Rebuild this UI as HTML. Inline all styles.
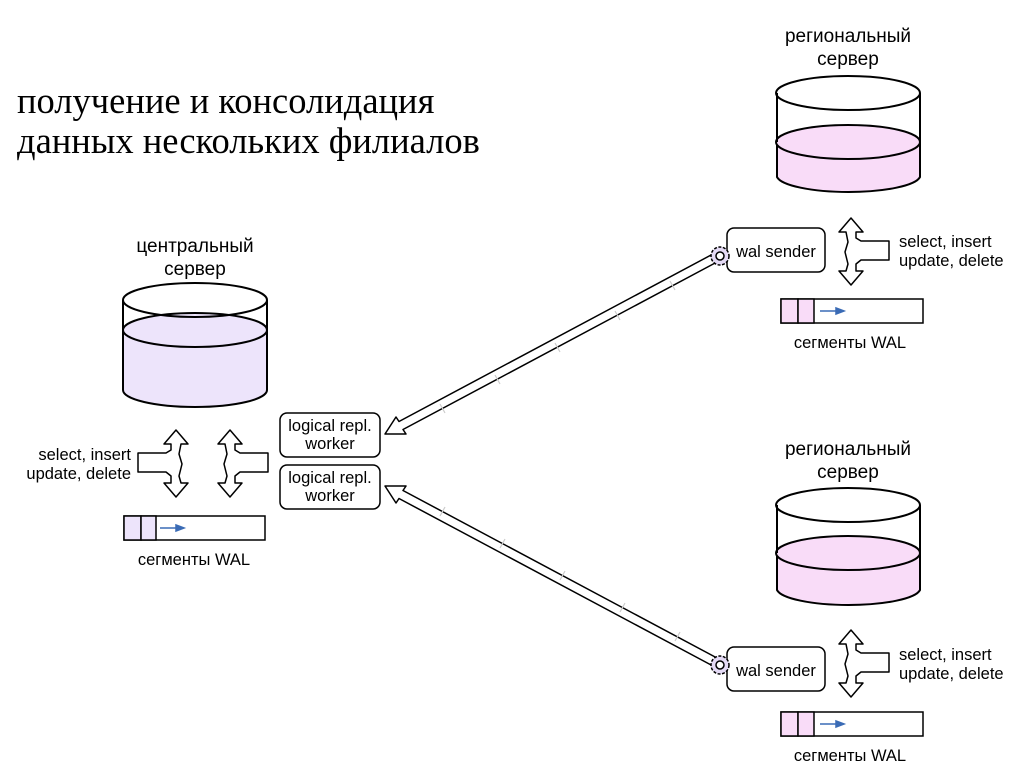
<!DOCTYPE html>
<html><head><meta charset="utf-8"><style>
html,body{margin:0;padding:0;background:#fff;}
svg{display:block;}
text{font-family:"Liberation Sans",sans-serif;font-size:16.5px;fill:#000;}
.t{font-family:"Liberation Serif",serif;font-size:36.5px;}
.h{font-size:19px;}
</style></head><body>
<svg width="1030" height="783" viewBox="0 0 1030 783">
<defs>
<g id="arr">
<polygon points="0,0 12,14 5,14 5,20 10,23 38,23 38,42 10,42 5,46 5,53 12,53 0,67 -12,53 -5,53 -3,46 -6,34 -3,24 -5,14 -12,14" fill="#fff" stroke="#000" stroke-width="1.5" stroke-linejoin="round"/>
</g>
</defs>
<text class="t" x="17" y="113">получение и консолидация</text>
<text class="t" x="17" y="153">данных нескольких филиалов</text>

<path d="M123,330 L123,390 A72,17 0 0 0 267,390 L267,330 Z" fill="#ede4fb" stroke="#000" stroke-width="2"/>
<ellipse cx="195" cy="330" rx="72" ry="17" fill="#ede4fb" stroke="#000" stroke-width="2"/>
<path d="M123,300 L123,330 M267,300 L267,330" stroke="#000" stroke-width="2"/>
<ellipse cx="195" cy="300" rx="72" ry="17" fill="none" stroke="#000" stroke-width="2"/>
<text class="h" x="195" y="252" text-anchor="middle">центральный</text>
<text class="h" x="195" y="275" text-anchor="middle">сервер</text>

<path d="M777,142 L777,177 A72,17 0 0 0 920,177 L920,142 Z" fill="#f9dcf8" stroke="#000" stroke-width="2"/>
<ellipse cx="848" cy="142" rx="72" ry="17" fill="#f9dcf8" stroke="#000" stroke-width="2"/>
<path d="M777,93 L777,142 M920,93 L920,142" stroke="#000" stroke-width="2"/>
<ellipse cx="848" cy="93" rx="72" ry="17" fill="none" stroke="#000" stroke-width="2"/>
<text class="h" x="848" y="42" text-anchor="middle">региональный</text>
<text class="h" x="848" y="65" text-anchor="middle">сервер</text>

<path d="M777,553 L777,590 A72,17 0 0 0 920,590 L920,553 Z" fill="#f9dcf8" stroke="#000" stroke-width="2"/>
<ellipse cx="848" cy="553" rx="72" ry="17" fill="#f9dcf8" stroke="#000" stroke-width="2"/>
<path d="M777,505 L777,553 M920,505 L920,553" stroke="#000" stroke-width="2"/>
<ellipse cx="848" cy="505" rx="72" ry="17" fill="none" stroke="#000" stroke-width="2"/>
<text class="h" x="848" y="455" text-anchor="middle">региональный</text>
<text class="h" x="848" y="478" text-anchor="middle">сервер</text>

<use href="#arr" transform="translate(176,430) scale(-1,1)"/>
<use href="#arr" transform="translate(230,430)"/>
<use href="#arr" transform="translate(851,218)"/>
<use href="#arr" transform="translate(851,630)"/>
<text x="131" y="460" text-anchor="end">select, insert</text>
<text x="131" y="479" text-anchor="end">update, delete</text>
<text x="899" y="247">select, insert</text>
<text x="899" y="266">update, delete</text>
<text x="899" y="660">select, insert</text>
<text x="899" y="679">update, delete</text>

<g stroke="#000" stroke-width="1.5">
<rect x="124" y="516" width="141" height="24" fill="#fff"/>
<rect x="124" y="516" width="17" height="24" fill="#ede4fb"/>
<rect x="141" y="516" width="15" height="24" fill="#ede4fb"/>
<rect x="781" y="299" width="142" height="24" fill="#fff"/>
<rect x="781" y="299" width="17" height="24" fill="#f9dcf8"/>
<rect x="798" y="299" width="16" height="24" fill="#f9dcf8"/>
<rect x="781" y="712" width="142" height="24" fill="#fff"/>
<rect x="781" y="712" width="17" height="24" fill="#f9dcf8"/>
<rect x="798" y="712" width="16" height="24" fill="#f9dcf8"/>
</g>
<g stroke="#3a6bb5" stroke-width="1.5" fill="#3a6bb5">
<line x1="160" y1="528" x2="180" y2="528"/><polygon points="184,528 176,525 176,531"/>
<line x1="820" y1="311" x2="840" y2="311"/><polygon points="844,311 836,308 836,314"/>
<line x1="820" y1="724" x2="840" y2="724"/><polygon points="844,724 836,721 836,727"/>
</g>
<text x="194" y="565" text-anchor="middle">сегменты WAL</text>
<text x="850" y="348" text-anchor="middle">сегменты WAL</text>
<text x="850" y="761" text-anchor="middle">сегменты WAL</text>

<g fill="#fff" stroke="#000" stroke-width="1.5" stroke-linejoin="round">
<polygon points="717,262 403,429.5 406,434 385,434 396,417 399,421.5 713,254"/>
<polygon points="717,658 403,490.5 406,486 385,486 396,503 399,498.5 713,666"/>
</g>
<g stroke="#ccc" stroke-width="1.2">
<line x1="440" y1="404" x2="445" y2="413"/><line x1="495" y1="375" x2="500" y2="384"/><line x1="555" y1="343" x2="560" y2="352"/><line x1="615" y1="311" x2="620" y2="320"/><line x1="670" y1="281" x2="675" y2="290"/>
<line x1="440" y1="516" x2="445" y2="507"/><line x1="500" y1="548" x2="505" y2="539"/><line x1="560" y1="580" x2="565" y2="571"/><line x1="620" y1="612" x2="625" y2="603"/><line x1="675" y1="641" x2="680" y2="632"/>
</g>

<g fill="#fff" stroke="#000" stroke-width="1.5">
<rect x="280" y="413" width="100" height="44" rx="7"/>
<rect x="280" y="465" width="100" height="44" rx="7"/>
<rect x="727" y="228" width="98" height="44" rx="7"/>
<rect x="727" y="647" width="98" height="44" rx="7"/>
</g>
<text x="330" y="431" text-anchor="middle">logical repl.</text>
<text x="330" y="449" text-anchor="middle">worker</text>
<text x="330" y="483" text-anchor="middle">logical repl.</text>
<text x="330" y="501" text-anchor="middle">worker</text>
<text x="776" y="257" text-anchor="middle">wal sender</text>
<text x="776" y="676" text-anchor="middle">wal sender</text>

<g stroke="#000" stroke-width="1.5">
<circle cx="720" cy="256" r="9" fill="#e4daf5" stroke-dasharray="3 1.5"/>
<circle cx="720" cy="256" r="4" fill="#fff"/>
<circle cx="720" cy="665" r="9" fill="#e4daf5" stroke-dasharray="3 1.5"/>
<circle cx="720" cy="665" r="4" fill="#fff"/>
</g>
</svg>
</body></html>
